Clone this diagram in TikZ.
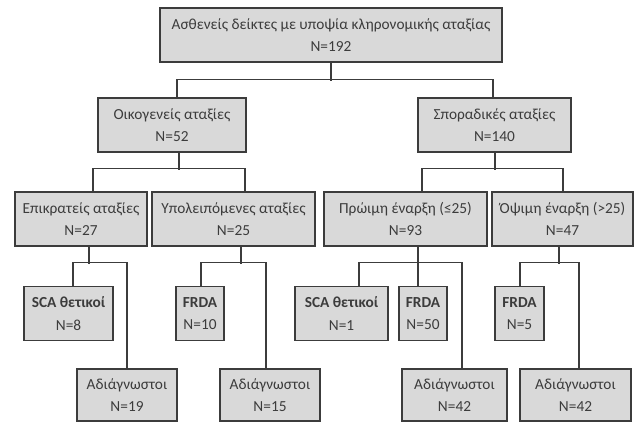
\documentclass[tikz,border=0pt]{standalone}
\usepackage{fontspec}
\setmainfont{Carlito}
\usetikzlibrary{calc}

\definecolor{boxgray}{HTML}{D9D9D9}
\definecolor{inkgray}{HTML}{3C3C3C}

\begin{document}
\begin{tikzpicture}[x = 0.75pt,
                    y = -0.75pt,
                    color = inkgray]
% style of boxes and links
\tikzset{box/.style={draw=inkgray,fill=boxgray,line width=0.9pt,align=center,
                     inner sep=0pt,minimum height=54*0.75pt,
                     font=\fontsize{11.5}{17}\selectfont,text=inkgray},
         wd/.style={minimum width=#1*0.75pt},
         link/.style={draw=inkgray,line width=0.9pt}}
\useasboundingbox (0,0) rectangle (636,423);

%level 0
\node[box,wd=342] (top) at (331,35) {Ασθενείς δείκτες με υποψία κληρονομικής αταξίας\\N=192};
%level 1
\node[box,wd=148] (oik) at (172,125) {Οικογενείς αταξίες\\N=52};
\node[box,wd=153] (spo) at (494.5,125) {Σποραδικές αταξίες\\N=140};
%level 2
\node[box,wd=132] (epi) at (81,219) {Επικρατείς αταξίες\\N=27};
\node[box,wd=163] (ypo) at (233.5,219) {Υπολειπόμενες αταξίες\\N=25};
\node[box,wd=163] (pro) at (405.5,219) {Πρώιμη έναρξη (≤25)\\N=93};
\node[box,wd=141] (ops) at (562.5,219) {Όψιμη έναρξη (>25)\\N=47};
%level 3
\node[box,wd=89] (scaA) at (68.5,313.5) {\textbf{SCA θετικοί}\\N=8};
\node[box,wd=48] (frdaA) at (200,313.5) {\textbf{FRDA}\\N=10};
\node[box,wd=93] (scaB) at (341.5,313.5) {\textbf{SCA θετικοί}\\N=1};
\node[box,wd=48] (frdaB) at (423,313.5) {\textbf{FRDA}\\N=50};
\node[box,wd=49] (frdaC) at (519.5,313.5) {\textbf{FRDA}\\N=5};
%level 4
\node[box,wd=100,minimum height=52*0.75pt] (adiA) at (127,395) {Αδιάγνωστοι\\N=19};
\node[box,wd=100,minimum height=52*0.75pt] (adiB) at (270,395) {Αδιάγνωστοι\\N=15};
\node[box,wd=105,minimum height=52*0.75pt] (adiC) at (454.5,395) {Αδιάγνωστοι\\N=42};
\node[box,wd=111,minimum height=52*0.75pt] (adiD) at (575.5,395) {Αδιάγνωστοι\\N=42};

%links from top
\draw[link] (top.south) -- ++(0,18);
\draw[link] ($(oik.north)+(5,0)$) -- ++(0,-18) -| ($(spo.north)+(-1.5,0)$);
%links from oik
\draw[link] ($(oik.south)+(7,0)$) -- ++(0,17);
\draw[link] ($(epi.north)+(12,0)$) -- ++(0,-23) -| ($(ypo.north)+(11.5,0)$);
%links from spo
\draw[link] ($(spo.south)+(0.5,0)$) -- ++(0,17);
\draw[link] ($(pro.north)+(16.5,0)$) -- ++(0,-23) -| ($(ops.north)+(0.5,0)$);
%links from epi
\draw[link] ($(epi.south)+(8,0)$) -- ++(0,17);
\draw[link] ($(scaA.north)+(4.5,0)$) -- ++(0,-23) -| (adiA.north);
%links from ypo
\draw[link] ($(ypo.south)+(7.5,0)$) -- ++(0,17);
\draw[link] ($(frdaA.north)+(1,0)$) -- ++(0,-23) -| ($(adiB.north)+(-4,0)$);
%links from pro
\draw[link] ($(pro.south)+(12.5,0)$) -- ($(frdaB.north)+(-5,0)$);
\draw[link] ($(scaB.north)+(17.5,0)$) -- ++(0,-23) -| ($(adiC.north)+(7.5,0)$);
%links from ops
\draw[link] ($(ops.south)+(-3.5,0)$) -- ++(0,17);
\draw[link] ($(frdaC.north)+(0.5,0)$) -- ++(0,-23) -| ($(adiD.north)+(3.5,0)$);
\end{tikzpicture}
\end{document}
